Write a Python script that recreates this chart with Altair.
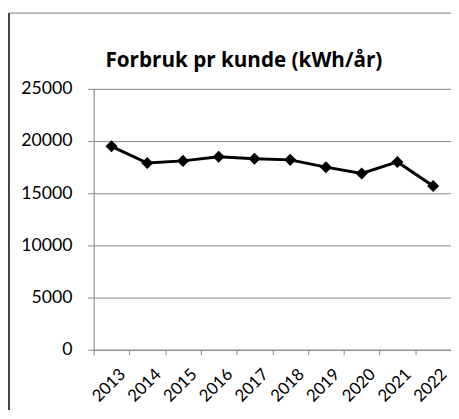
import altair as alt
import pandas as pd

years = ["2013", "2014", "2015", "2016", "2017", "2018", "2019", "2020", "2021", "2022"]
values = [19500, 17900, 18100, 18500, 18300, 18200, 17500, 16900, 18000, 15700]
y_ticks = [0, 5000, 10000, 15000, 20000, 25000]
title_text = ["Forbruk pr kunde (kWh/år)"]

df = pd.DataFrame({"year": years, "value": values})
tdf = pd.DataFrame({"t": title_text})
FONT = "Lato"

x_enc = alt.X("year:N", sort=years, title=None,
              scale=alt.Scale(paddingInner=0, paddingOuter=0),
              axis=alt.Axis(labelAngle=-45, labelAlign="right", labelBaseline="middle",
                            tickBand="extent", grid=False, tickSize=5,
                            labelPadding=17, labelOffset=11,
                            domainColor="#888888", tickColor="#888888",
                            labelFont=FONT, labelFontSize=17, labelColor="#000000"))
y_enc = alt.Y("value:Q", title=None,
              scale=alt.Scale(domain=[0, 25000], nice=False),
              axis=alt.Axis(values=y_ticks, format="d", grid=True, gridColor="#888888",
                            gridWidth=1, tickSize=6, labelPadding=16,
                            domainColor="#888888", tickColor="#888888",
                            labelFont=FONT, labelFontSize=18, labelColor="#000000"))

line = alt.Chart(df).mark_line(color="#000000", strokeWidth=3).encode(x=x_enc, y=y_enc)
pts = alt.Chart(df).mark_point(shape="diamond", filled=True, color="#000000",
                               size=150, opacity=1).encode(x=x_enc, y=y_enc)

title = alt.Chart(tdf).mark_text(align="left", baseline="alphabetic", font="Open Sans",
                                 fontSize=21, fontWeight="bold", color="#000000").encode(
    text="t:N", x=alt.value(12), y=alt.value(-22))

frame_left = alt.Chart(tdf).mark_rule(color="#000000", strokeWidth=1.5).encode(
    x=alt.value(-86), y=alt.value(-77), y2=alt.value(340))
frame_top = alt.Chart(tdf).mark_rule(color="#777777", strokeWidth=1).encode(
    x=alt.value(-86), x2=alt.value(380), y=alt.value(-77))

chart = alt.layer(frame_left, frame_top, line, pts, title).properties(
    width=363, height=265,
    autosize=alt.AutoSizeParams(type="none"),
    padding={"left": 87, "top": 79, "right": 0, "bottom": 58},
).configure_view(stroke=None).configure(background="#ffffff")

chart.save("out.html", embed_options={"renderer": "svg", "actions": False})
